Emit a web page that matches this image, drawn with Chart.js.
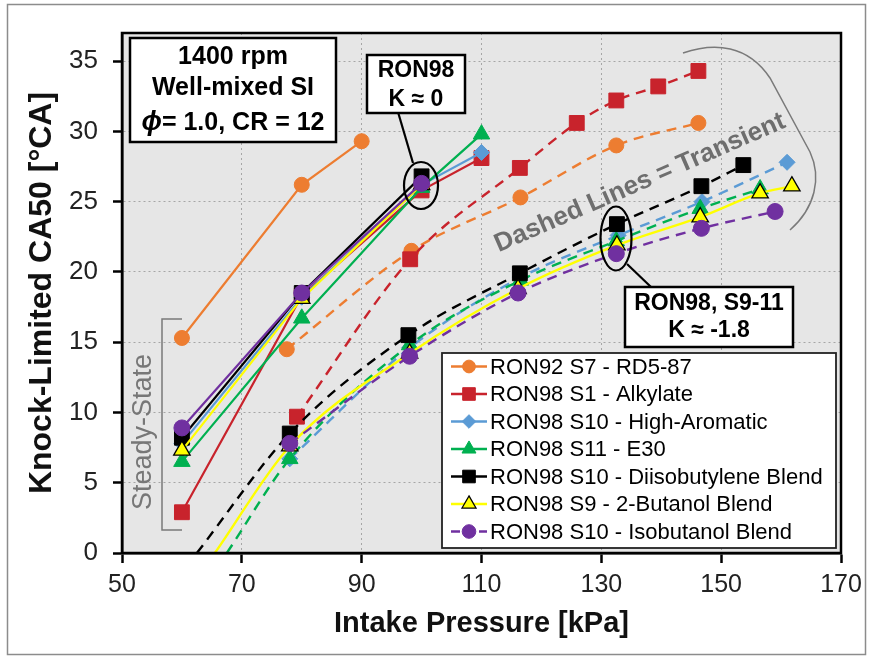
<!DOCTYPE html>
<html>
<head>
<meta charset="utf-8">
<script src="https://cdn.jsdelivr.net/npm/chart.js@4/dist/chart.umd.min.js"></script>
<style>
  body { margin: 0; background: #fff; }
  #wrap { width: 873px; height: 660px; }
</style>
</head>
<body>
<div id="wrap"><canvas id="knockChart" width="873" height="660"></canvas></div>
<script>
// fuels, in legend order
const fuels = [
    'RON92 S7 - RD5-87',
    'RON98 S1 - Alkylate',
    'RON98 S10 - High-Aromatic',
    'RON98 S11 - E30',
    'RON98 S10 - Diisobutylene Blend',
    'RON98 S9 - 2-Butanol Blend',
    'RON98 S10 - Isobutanol Blend'
];

// steady-state points (solid lines): intake pressure [kPa] and CA50 [°CA]
const steadyP = [
    [60, 80, 90],
    [60, 80, 100, 110],
    [60, 80, 100, 110],
    [60, 80, 100, 110],
    [60, 80, 100],
    [60, 80, 100],
    [60, 80, 100]
];
const steadyCA50 = [
    [15.3, 26.2, 29.3],
    [2.9, 18.3, 25.8, 28.1],
    [7.8, 18.2, 26.2, 28.5],
    [6.5, 16.7, 26.0, 29.8],
    [8.2, 18.5, 26.8],
    [7.3, 18.1, 26.2],
    [8.9, 18.5, 26.3]
];

// transient points (dashed lines); a CA50 of 0 is where the fit line leaves the axis (no marker)
const transP = [
    [77.5, 98.3, 116.5, 132.5, 146.2],
    [79.2, 98.1, 116.4, 125.9, 132.5, 139.5, 146.2],
    [78, 98, 116.5, 132.8, 146.8, 161],
    [67.5, 78, 98, 116.5, 132.5, 146.5, 156.5],
    [62.5, 78, 97.8, 116.4, 132.6, 146.7, 153.7],
    [65.5, 78, 98, 116.1, 132.6, 146.5, 156.5, 161.8],
    [78, 98, 116.1, 132.5, 146.7, 159]
];
const transCA50 = [
    [14.5, 21.5, 25.3, 29.0, 30.6],
    [9.7, 20.9, 27.4, 30.6, 32.2, 33.2, 34.3],
    [6.7, 14.6, 19.6, 22.6, 25.0, 27.8],
    [0, 6.7, 14.8, 19.4, 22.2, 24.5, 25.9],
    [0, 8.5, 15.5, 19.9, 23.4, 26.1, 27.6],
    [0, 7.6, 14.2, 18.8, 21.9, 23.9, 25.6, 26.1],
    [7.8, 14.0, 18.5, 21.3, 23.1, 24.3]
];

const yTicks = [0, 5, 10, 15, 20, 25, 30, 35];

// marker styles
const colors = ['#ED7D31', '#C8232C', '#5B9BD5', '#00B050', '#000000', '#FFFF00', '#7030A0'];
const shapes = ['circle', 'rect', 'rectRot', 'triangle', 'rect', 'triangle', 'circle'];
const radii = [7.5, 10.5, 8, 9.5, 10.5, 9.5, 8];
const edgeColors = ['#ED7D31', '#C8232C', '#5B9BD5', '#00B050', '#000000', '#000000', '#7030A0'];
const transientDashed = [true, true, true, true, true, false, true];

const FONT = "'Liberation Sans', Arial, sans-serif";

const toXY = (ps, vs) => ps.map((p, j) => ({ x: p, y: vs[j] }));

const datasets = [];
fuels.forEach((name, i) => {
    const r = radii[i];
    const common = {
        borderColor: colors[i],
        backgroundColor: colors[i],
        pointBackgroundColor: colors[i],
        pointBorderColor: edgeColors[i],
        pointBorderWidth: i === 5 ? 1.3 : 1,
        pointStyle: shapes[i],
        pointRadius: (c) => (c.raw && c.raw.y === 0 ? 0 : r),
        pointHoverRadius: (c) => (c.raw && c.raw.y === 0 ? 0 : r),
        order: fuels.length - 1 - i
    };
    datasets.push(Object.assign({
        label: name,
        data: toXY(steadyP[i], steadyCA50[i]),
        borderWidth: 2.2,
        tension: 0
    }, common));
    datasets.push(Object.assign({
        label: name + ' (transient)',
        data: toXY(transP[i], transCA50[i]),
        borderWidth: 2.4,
        borderDash: transientDashed[i] ? [10, 7] : [],
        cubicInterpolationMode: 'monotone'
    }, common));
});

// grey plot background
const backdrop = {
    id: 'backdrop',
    beforeDraw(chart) {
        const { ctx, chartArea: a } = chart;
        ctx.save();
        ctx.fillStyle = '#fff';
        ctx.fillRect(0, 0, chart.width, chart.height);
        ctx.fillStyle = '#e6e6e6';
        ctx.fillRect(a.left, a.top, a.right - a.left, a.bottom - a.top);
        ctx.restore();
    }
};

function drawMarker(ctx, i, x, y) {
    ctx.fillStyle = colors[i];
    ctx.strokeStyle = edgeColors[i];
    ctx.lineWidth = i === 5 ? 1.3 : 1;
    ctx.setLineDash([]);
    Chart.helpers.drawPoint(ctx, { pointStyle: shapes[i], radius: radii[i] * 0.85, rotation: 0, borderWidth: ctx.lineWidth }, x, y);
}

function textBox(ctx, x0, y0, x1, y1, lines, font, lineY) {
    ctx.fillStyle = '#fff';
    ctx.fillRect(x0, y0, x1 - x0, y1 - y0);
    ctx.strokeStyle = '#000';
    ctx.lineWidth = 2.5;
    ctx.strokeRect(x0, y0, x1 - x0, y1 - y0);
    ctx.fillStyle = '#000';
    ctx.font = font;
    ctx.textAlign = 'center';
    ctx.textBaseline = 'middle';
    lines.forEach((t, k) => ctx.fillText(t, (x0 + x1) / 2, lineY[k]));
}

const overlay = {
    id: 'overlay',
    afterDraw(chart) {
        const { ctx, chartArea: a } = chart;
        ctx.save();

        // plot frame
        ctx.setLineDash([]);
        ctx.strokeStyle = '#000';
        ctx.lineWidth = 2.5;
        ctx.strokeRect(a.left, a.top, a.right - a.left, a.bottom - a.top);

        // outer picture border
        ctx.strokeStyle = '#8c8c8c';
        ctx.lineWidth = 1.5;
        ctx.strokeRect(7.5, 4.5, 858, 650);

        // legend
        const lx0 = 442, ly0 = 353, lx1 = 836, ly1 = 548;
        ctx.fillStyle = '#fff';
        ctx.fillRect(lx0, ly0, lx1 - lx0, ly1 - ly0);
        ctx.strokeStyle = '#222';
        ctx.lineWidth = 1.8;
        ctx.strokeRect(lx0, ly0, lx1 - lx0, ly1 - ly0);
        fuels.forEach((name, i) => {
            const y = 366.5 + i * 27.5;
            ctx.strokeStyle = colors[i];
            ctx.lineWidth = 2.4;
            ctx.setLineDash(i === 6 ? [9, 5] : []);
            ctx.beginPath();
            ctx.moveTo(451, y);
            ctx.lineTo(487, y);
            ctx.stroke();
            drawMarker(ctx, i, 469, y);
            ctx.fillStyle = '#000';
            ctx.font = '22px ' + FONT;
            ctx.textAlign = 'left';
            ctx.textBaseline = 'middle';
            ctx.fillText(name, 490, y + 1);
        });

        // condition box
        ctx.fillStyle = '#fff';
        ctx.fillRect(130, 38, 206, 104);
        ctx.strokeStyle = '#000';
        ctx.lineWidth = 2.5;
        ctx.strokeRect(130, 38, 206, 104);
        ctx.fillStyle = '#000';
        ctx.textAlign = 'center';
        ctx.textBaseline = 'middle';
        ctx.font = 'bold 25px ' + FONT;
        ctx.fillText('1400 rpm', 233, 57);
        ctx.fillText('Well-mixed SI', 233, 88);
        const phi = '\u03D5', rest = '= 1.0, CR = 12';
        ctx.font = 'italic bold 27px ' + FONT;
        const wPhi = ctx.measureText(phi).width;
        ctx.font = 'bold 25px ' + FONT;
        const wRest = ctx.measureText(rest).width;
        const sx = 233 - (wPhi + wRest) / 2;
        ctx.textAlign = 'left';
        ctx.font = 'italic bold 27px ' + FONT;
        ctx.fillText(phi, sx, 123);
        ctx.font = 'bold 25px ' + FONT;
        ctx.fillText(rest, sx + wPhi, 123);

        // RON98 K ≈ 0 callout
        ctx.strokeStyle = '#000';
        ctx.lineWidth = 2.2;
        ctx.beginPath();
        ctx.moveTo(398, 112);
        ctx.lineTo(413, 163);
        ctx.stroke();
        ctx.beginPath();
        ctx.ellipse(421, 185.5, 17, 23.5, 0, 0, Math.PI * 2);
        ctx.stroke();
        textBox(ctx, 367, 55, 465, 113, ['RON98', 'K \u2248 0'], 'bold 23px ' + FONT, [71, 100]);

        // RON98, S9-11 callout
        ctx.strokeStyle = '#000';
        ctx.lineWidth = 2.2;
        ctx.beginPath();
        ctx.moveTo(651, 287);
        ctx.lineTo(627, 264);
        ctx.stroke();
        ctx.beginPath();
        ctx.ellipse(616, 238.5, 15.5, 32, 0, 0, Math.PI * 2);
        ctx.stroke();
        textBox(ctx, 625, 287, 793, 347, ['RON98, S9-11', 'K \u2248 -1.8'], 'bold 23px ' + FONT, [304, 331]);

        // transient label and bracket
        ctx.fillStyle = '#6e6e6e';
        ctx.font = 'bold 26px ' + FONT;
        ctx.textAlign = 'center';
        ctx.textBaseline = 'middle';
        ctx.save();
        ctx.translate(640, 183);
        ctx.rotate(-23.5 * Math.PI / 180);
        ctx.fillText('Dashed Lines = Transient', 0, 0);
        ctx.restore();
        ctx.strokeStyle = '#7a7a7a';
        ctx.lineWidth = 1.5;
        ctx.beginPath();
        ctx.moveTo(683, 53);
        ctx.bezierCurveTo(715, 42, 748, 45, 770, 78);
        ctx.lineTo(810, 152);
        ctx.bezierCurveTo(822, 178, 815, 208, 790, 230);
        ctx.stroke();

        // steady-state label and bracket
        ctx.fillStyle = '#777';
        ctx.font = '27px ' + FONT;
        ctx.save();
        ctx.translate(144, 432);
        ctx.rotate(-Math.PI / 2);
        ctx.fillText('Steady-State', 0, 0);
        ctx.restore();
        ctx.beginPath();
        ctx.moveTo(182, 319);
        ctx.lineTo(162, 319);
        ctx.lineTo(162, 530);
        ctx.lineTo(182, 530);
        ctx.stroke();

        ctx.restore();
    }
};

const gridOpts = {
    color: '#a6a6a6',
    lineWidth: 1,
    borderDash: [2, 3],
    tickColor: '#000',
    tickWidth: 2.5,
    tickBorderDash: []
};

const ctx = document.getElementById('knockChart').getContext('2d');
const knockChart = new Chart(ctx, {
    type: 'line',
    data: { datasets: datasets },
    options: {
        responsive: false,
        animation: false,
        events: [],
        layout: { padding: { left: 0, top: 33, right: 32, bottom: 0 } },
        plugins: {
            legend: { display: false },
            title: { display: false },
            tooltip: { enabled: false }
        },
        scales: {
            x: {
                type: 'linear',
                min: 50,
                max: 170,
                afterFit: (scale) => { scale.height = 107; },
                ticks: {
                    stepSize: 20,
                    color: '#222',
                    padding: 7,
                    font: { family: FONT, size: 25 }
                },
                grid: Object.assign({ tickLength: 10 }, gridOpts),
                border: { display: true, color: '#000', width: 2.5, dash: [2, 3] },
                title: {
                    display: true,
                    text: 'Intake Pressure [kPa]',
                    color: '#111',
                    font: { family: FONT, size: 29, weight: 'bold' },
                    padding: { top: 0, bottom: 19 }
                }
            },
            y: {
                type: 'linear',
                min: 0,
                max: 37,
                afterFit: (scale) => { scale.width = 122; },
                afterBuildTicks: (scale) => { scale.ticks = yTicks.map(v => ({ value: v })); },
                ticks: {
                    color: '#222',
                    padding: 15,
                    font: { family: FONT, size: 26 }
                },
                grid: Object.assign({ tickLength: 9 }, gridOpts),
                border: { display: true, color: '#000', width: 2.5, dash: [2, 3] },
                title: {
                    display: true,
                    text: 'Knock-Limited CA50 [°CA]',
                    color: '#111',
                    font: { family: FONT, size: 32, weight: 'bold' },
                    padding: { top: 23, bottom: 0 }
                }
            }
        }
    },
    plugins: [backdrop, overlay]
});
</script>
</body>
</html>
